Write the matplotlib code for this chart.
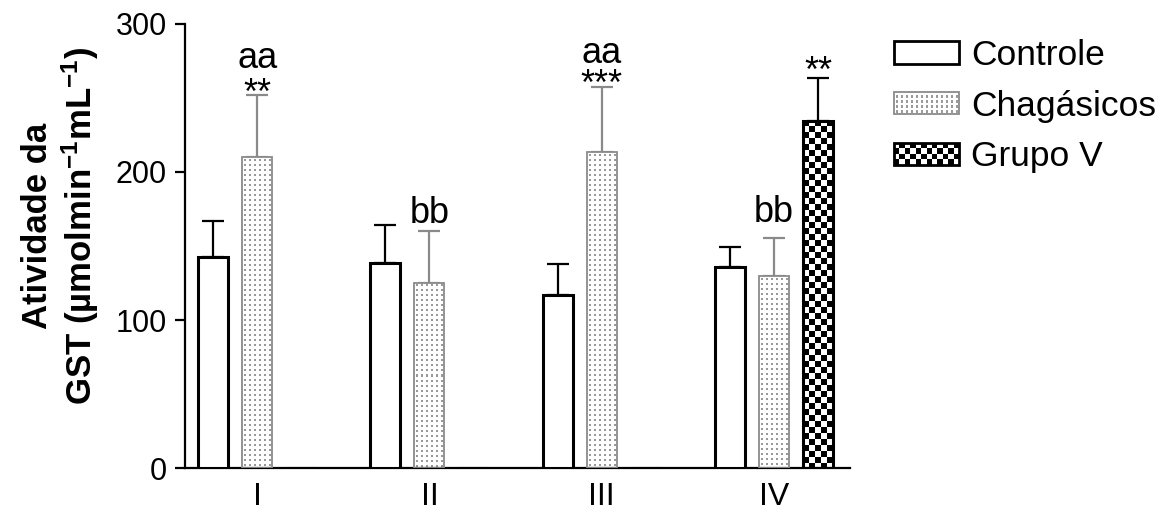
import numpy as np
import matplotlib
matplotlib.use('Agg')
import matplotlib.pyplot as plt
from matplotlib.patches import Rectangle
from matplotlib.legend_handler import HandlerBase

# ---------------- data ----------------
groups = ['I', 'II', 'III', 'IV']
series_names = ['Controle', 'Chagásicos', 'Grupo V']
controle = [142.6, 138.5, 117.0, 135.8]
controle_err = [24.3, 25.5, 21.0, 13.2]
chagasicos = [210.0, 125.0, 213.5, 129.7]
chagasicos_err = [42.0, 35.0, 44.0, 25.7]
grupo_v = [0.0, 0.0, 0.0, 234.5]
grupo_v_err = [0.0, 0.0, 0.0, 29.0]

# significance labels: (group index, series index, text, y baseline)
letter_marks = [(0, 1, 'aa', 270.0), (1, 1, 'bb', 165.5), (2, 1, 'aa', 273.5), (3, 1, 'bb', 166.0)]
star_marks = [(0, 1, '**', 246.0), (2, 1, '***', 252.0), (3, 2, '**', 261.0)]

yticks = [0, 100, 200, 300]

# ---------------- style ----------------
plt.rcParams['font.family'] = ['Liberation Sans', 'DejaVu Sans']
plt.rcParams['mathtext.fontset'] = 'custom'
plt.rcParams['mathtext.rm'] = 'Liberation Sans:bold'
plt.rcParams['mathtext.it'] = 'Liberation Sans:bold'
plt.rcParams['mathtext.bf'] = 'Liberation Sans:bold'
plt.rcParams['mathtext.default'] = 'rm'

W, H = 1170, 513
fig = plt.figure(figsize=(W / 100, H / 100), dpi=100)
ax = fig.add_axes([185 / W, 45 / H, (850 - 185) / W, (468 - 24) / H])

x = np.arange(len(groups))
off = 0.256
width = 0.174
XLIM = (-0.419, 3.442)
YLIM = (0, 300)
ax.set_xlim(*XLIM)
ax.set_ylim(*YLIM)

GRAY = '#8a8a8a'
DOT = '#9a9a9a'

b1 = ax.bar(x - off, controle, width, facecolor='white', edgecolor='black', linewidth=2.2, zorder=3)
b2 = ax.bar(x, chagasicos, width, facecolor='none', edgecolor=GRAY, linewidth=1.3, zorder=3)
b3 = ax.bar(x + off, grupo_v, width, facecolor='none', edgecolor='black', linewidth=2.2, zorder=3)


def make_pattern(kind, w_px, h_px):
    ii, jj = np.mgrid[0:h_px, 0:w_px]
    arr = np.ones((h_px, w_px, 3))
    if kind == 'dots':
        mask = ((ii % 5) >= 2) & ((ii % 5) <= 3) & ((jj % 5) >= 2) & ((jj % 5) <= 3)
        arr[mask] = 0.6
    else:
        mask = ((ii // 6) + (jj // 6)) % 2 == 0
        arr[mask] = 0.0
    return arr


def fill_pattern(bars, kind):
    for rect in bars:
        h = rect.get_height()
        if h <= 0:
            continue
        x0 = rect.get_x()
        x1 = x0 + rect.get_width()
        p0 = ax.transData.transform((x0, 0))
        p1 = ax.transData.transform((x1, h))
        w_px = max(int(round(p1[0] - p0[0])), 1)
        h_px = max(int(round(p1[1] - p0[1])), 1)
        img = make_pattern(kind, w_px, h_px)
        im = ax.imshow(img, extent=(x0, x1, 0, h), origin='upper', aspect='auto',
                       interpolation='nearest', zorder=2)
        im.set_clip_path(rect)


fill_pattern(b2, 'dots')
fill_pattern(b3, 'checker')
ax.set_xlim(*XLIM)
ax.set_ylim(*YLIM)

# error bars (upper only)
zeros = np.zeros(len(groups))
ax.errorbar(x - off, controle, yerr=[zeros, controle_err], fmt='none', ecolor='black',
            elinewidth=1.6, capsize=8, capthick=1.6, zorder=1)
ax.errorbar(x, chagasicos, yerr=[zeros, chagasicos_err], fmt='none', ecolor=GRAY,
            elinewidth=1.6, capsize=8, capthick=1.6, zorder=1)
gv = np.array(grupo_v)
gve = np.array(grupo_v_err)
m = gv > 0
ax.errorbar((x + off)[m], gv[m], yerr=[zeros[m], gve[m]], fmt='none', ecolor='black',
            elinewidth=1.6, capsize=8, capthick=1.6, zorder=1)

offsets = [-off, 0, off]
for gi, si, txt, yv in letter_marks:
    ax.text(x[gi] + offsets[si], yv, txt, ha='center', va='baseline', fontsize=26, clip_on=False)
for gi, si, txt, yv in star_marks:
    ax.text(x[gi] + offsets[si], yv, txt, ha='center', va='baseline', fontsize=26, clip_on=False)

# axes styling
for s in ['top', 'right']:
    ax.spines[s].set_visible(False)
for s in ['left', 'bottom']:
    ax.spines[s].set_linewidth(1.6)
ax.set_yticks(yticks)
ax.set_xticks(x)
ax.set_xticklabels(groups)
ax.tick_params(axis='y', labelsize=22, length=7, width=1.6, pad=6)
ax.tick_params(axis='x', labelsize=23, length=0, pad=10)

fig.text(61 / W, 1 - 226 / H, 'Atividade da\nGST (µmolmin$^{-1}$mL$^{-1}$)', rotation=90,
         ha='center', va='center', fontsize=25, fontweight='bold', linespacing=1.15,
         multialignment='center')


# legend with pattern handles
class PatternHandler(HandlerBase):
    def __init__(self, kind):
        super().__init__()
        self.kind = kind

    def create_artists(self, legend, orig_handle, xdescent, ydescent, width, height, fontsize, trans):
        x0, y0 = -xdescent, -ydescent
        arts = []
        if self.kind == 'plain':
            arts.append(Rectangle((x0, y0), width, height, facecolor='white', edgecolor='black',
                                  linewidth=2.0, transform=trans))
        elif self.kind == 'dots':
            arts.append(Rectangle((x0, y0), width, height, facecolor='white', edgecolor=GRAY,
                                  linewidth=1.3, transform=trans))
            cell = 3.6
            nx = int(width // cell)
            ny = int(height // cell)
            for i in range(nx):
                for j in range(ny):
                    arts.append(Rectangle((x0 + 1.2 + i * cell, y0 + 1.2 + j * cell), 1.5, 1.5,
                                          facecolor=DOT, edgecolor='none', transform=trans))
        else:
            arts.append(Rectangle((x0, y0), width, height, facecolor='white', edgecolor='none',
                                  transform=trans))
            nx, ny = 12, 4
            cw, ch = width / nx, height / ny
            for i in range(nx):
                for j in range(ny):
                    if (i + j) % 2 == 0:
                        arts.append(Rectangle((x0 + i * cw, y0 + j * ch), cw, ch, facecolor='black',
                                              edgecolor='none', transform=trans))
            arts.append(Rectangle((x0, y0), width, height, facecolor='none', edgecolor='black',
                                  linewidth=2.0, transform=trans))
        return arts


handles = [Rectangle((0, 0), 1, 1) for _ in series_names]
kinds = ['plain', 'dots', 'checker']
fig.legend(handles, series_names, loc='upper left', bbox_to_anchor=(894 / W, 1 - 39 / H),
           frameon=False, fontsize=25.5, handlelength=1.84, handleheight=0.58,
           handletextpad=0.33, labelspacing=0.5, borderpad=0, borderaxespad=0,
           handler_map={h: PatternHandler(k) for h, k in zip(handles, kinds)})

fig.savefig('out.png', dpi=100)
